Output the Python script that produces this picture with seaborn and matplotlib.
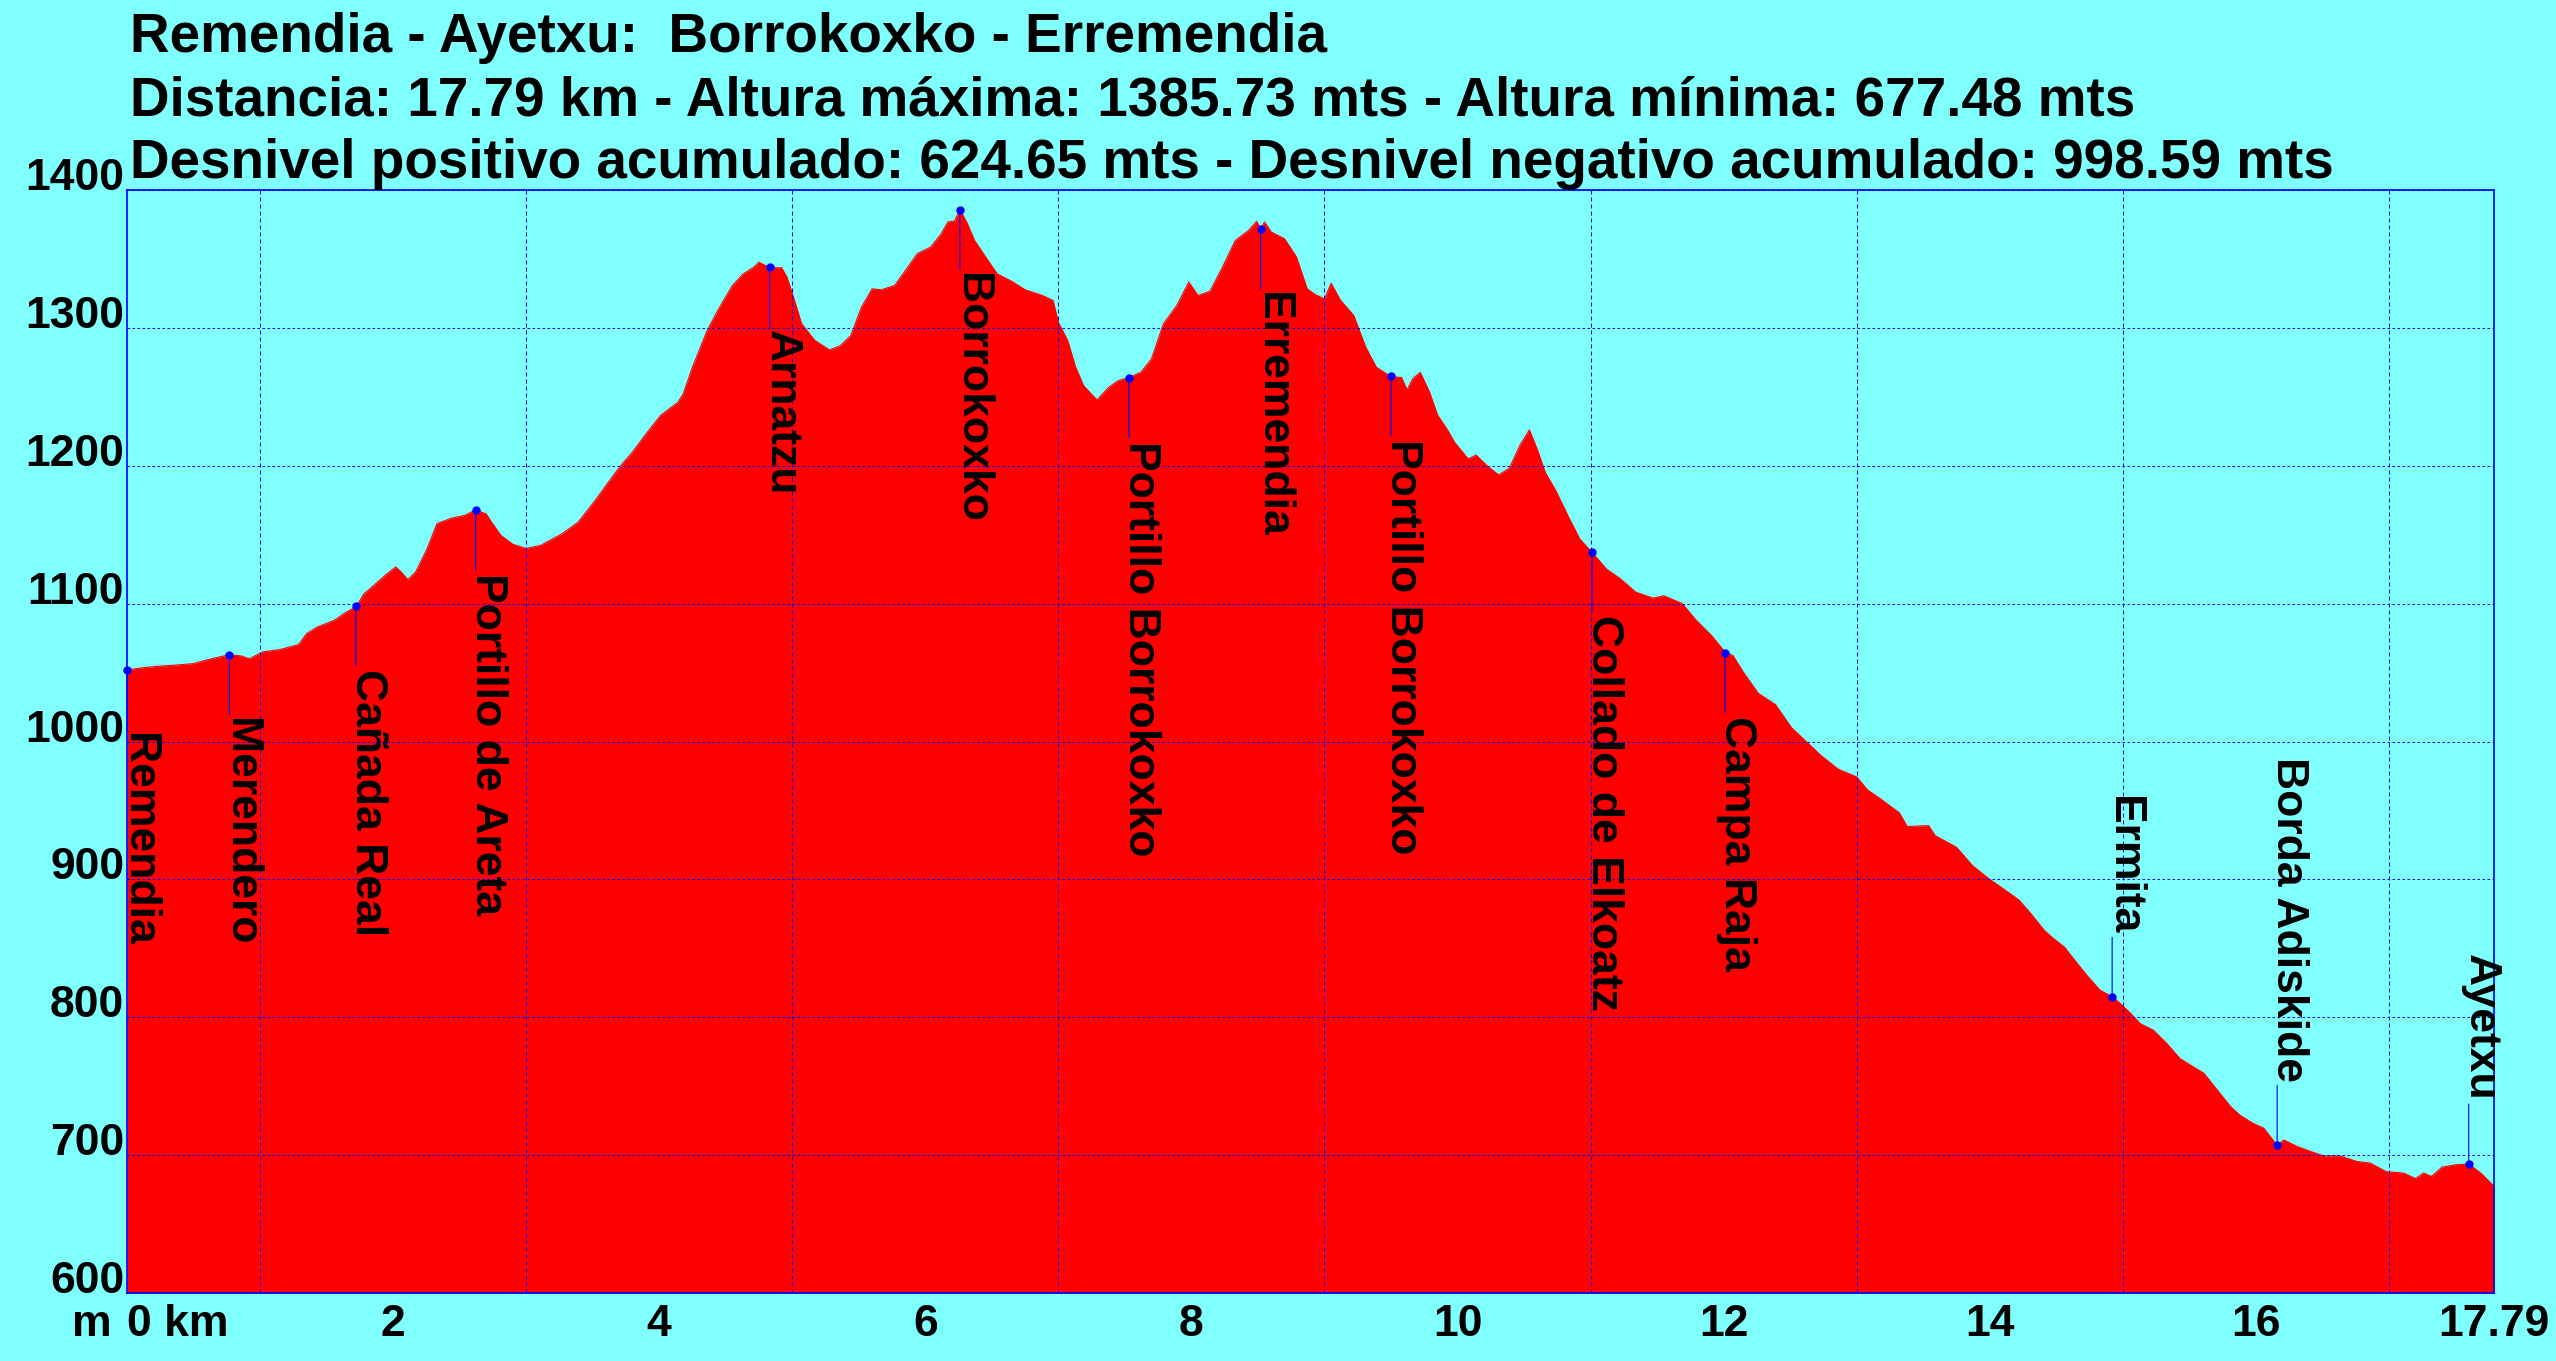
import numpy as np
import pandas as pd
import matplotlib
matplotlib.use("Agg")
import matplotlib.pyplot as plt
from matplotlib.ticker import MultipleLocator
import seaborn as sns

# ---------------- data ----------------
title_lines = [
    "Remendia - Ayetxu:  Borrokoxko - Erremendia",
    "Distancia: 17.79 km - Altura máxima: 1385.73 mts - Altura mínima: 677.48 mts",
    "Desnivel positivo acumulado: 624.65 mts - Desnivel negativo acumulado: 998.59 mts",
]

dist_km = [
    0.0, 0.13, 0.24, 0.35, 0.50, 0.61, 0.77, 0.86, 0.92, 1.02, 1.15, 1.29, 1.35, 1.43,
    1.56, 1.65, 1.72, 1.78, 1.87, 1.94, 2.02, 2.06, 2.11, 2.17, 2.25, 2.33, 2.44, 2.54,
    2.62, 2.70, 2.74, 2.81, 2.90, 3.00, 3.11, 3.27, 3.39, 3.52, 3.61, 3.71, 3.80, 3.90,
    4.01, 4.14, 4.18, 4.25, 4.36, 4.44, 4.55, 4.63, 4.71, 4.75, 4.83, 4.92, 4.96, 5.01,
    5.07, 5.17, 5.28, 5.36, 5.44, 5.52, 5.60, 5.67, 5.77, 5.85, 5.94, 6.04, 6.12, 6.17,
    6.22, 6.26, 6.31, 6.37, 6.47, 6.54, 6.66, 6.75, 6.88, 6.96, 7.00, 7.07, 7.13, 7.19,
    7.29, 7.38, 7.45, 7.53, 7.62, 7.70, 7.79, 7.89, 7.98, 8.05, 8.14, 8.24, 8.33, 8.43,
    8.49, 8.52, 8.55, 8.60, 8.70, 8.79, 8.87, 8.93, 9.00, 9.05, 9.12, 9.22, 9.31, 9.39,
    9.50, 9.58, 9.62, 9.665, 9.72, 9.79, 9.85, 9.92, 9.98, 10.08, 10.14, 10.23, 10.31,
    10.39, 10.47, 10.54, 10.60, 10.66, 10.74, 10.84, 10.92, 11.01, 11.12, 11.22, 11.34,
    11.47, 11.55, 11.69, 11.79, 11.91, 12.01, 12.07, 12.15, 12.26, 12.39, 12.51, 12.62,
    12.73, 12.86, 13.00, 13.08, 13.18, 13.32, 13.38, 13.54, 13.59, 13.75, 13.87, 14.00,
    14.10, 14.22, 14.31, 14.41, 14.48, 14.56, 14.63, 14.73, 14.83, 14.92, 14.98, 15.06,
    15.13, 15.23, 15.33, 15.43, 15.53, 15.61, 15.71, 15.81, 15.88, 15.98, 16.06, 16.16,
    16.21, 16.31, 16.41, 16.51, 16.63, 16.76, 16.86, 16.98, 17.11, 17.20, 17.26, 17.32,
    17.40, 17.50, 17.60, 17.69, 17.79,
]
elev_m = [
    1052, 1053.6, 1054.6, 1055.3, 1056.5, 1059.4, 1063, 1062, 1060, 1065, 1066.7, 1070.3,
    1078.3, 1083, 1088, 1094, 1097.6, 1107, 1114.5, 1120.5, 1126.6, 1123, 1117.4, 1123,
    1138.6, 1158, 1162, 1164, 1168, 1165, 1159, 1149.5, 1143, 1140, 1142.3, 1150.7, 1159,
    1175, 1187, 1200, 1210, 1223, 1236.5, 1246, 1252, 1271.5, 1298, 1312.6, 1330.7, 1339,
    1344, 1347.6, 1343.6, 1343.6, 1336.8, 1322, 1303, 1290.8, 1284, 1287, 1294.4, 1315,
    1328.3, 1327.6, 1330.8, 1341.6, 1353.8, 1358.6, 1368.3, 1376.8, 1377.5, 1385.7,
    1376.8, 1363.4, 1349, 1339.2, 1333.2, 1327.6, 1323.5, 1319.9, 1304, 1290.8, 1271.4,
    1258, 1247.7, 1257, 1261.7, 1264, 1267.8, 1277.5, 1303, 1316.2, 1333.2, 1323.5,
    1326.6, 1345.3, 1363.4, 1370.7, 1377.2, 1372, 1376.8, 1369.5, 1364.6, 1351.3, 1328.3,
    1324.2, 1321, 1332.4, 1320, 1309, 1286, 1271.4, 1264.6, 1264, 1255, 1263.3, 1267.7,
    1253.3, 1236.7, 1226.7, 1216.7, 1205, 1207.7, 1199.3, 1193.3, 1198.3, 1215, 1226,
    1211.7, 1195, 1181.7, 1161.7, 1146.7, 1137.3, 1125, 1118.3, 1108.3, 1104, 1105.7,
    1100, 1088.3, 1076.7, 1065, 1062.3, 1050, 1035, 1026.7, 1010, 1000, 990, 980, 974.3,
    965, 958.3, 948.3, 938.3, 939, 931.7, 923.3, 910, 900, 893.3, 885, 875, 863, 857,
    851, 842.4, 830.4, 819.5, 815, 810, 802.7, 795.4, 790.6, 781, 770, 764, 759.3, 747.2,
    735.2, 729, 723, 719.5, 707, 711, 706.3, 702.7, 699.5, 699.5, 695.4, 694.2, 688, 687,
    683, 687, 684.6, 691.3, 693, 693.5, 687, 677.5,
]

wp_names = ["Remendia", "Merendero", "Cañada Real", "Portillo de Areta", "Arnatzu",
            "Borrokoxko", "Portillo Borrokoxko", "Erremendia", "Portillo Borrokoxko",
            "Collado de Elkoatz", "Campa Raja", "Ermita", "Borda Adiskide", "Ayetxu"]
wp_km = [0.0, 0.77, 1.72, 2.62, 4.83, 6.26, 7.53, 8.52, 9.50, 11.01, 12.01, 14.92, 16.16, 17.60]
wp_elev = [1052, 1063, 1098, 1168, 1344, 1385.7, 1264, 1372, 1265, 1137.5, 1064.5, 814.5, 707, 693.5]
wp_side = ["below"] * 11 + ["above"] * 3

x_ticks = [0, 2, 4, 6, 8, 10, 12, 14, 16, 17.79]
x_ticklabels = ["0 km", "2", "4", "6", "8", "10", "12", "14", "16", "17.79"]
y_ticks = [600, 700, 800, 900, 1000, 1100, 1200, 1300, 1400]

# ---------------- style ----------------
BG = "#80FFFF"
sns.set_theme(style="white")
plt.rcParams["font.family"] = ["Liberation Sans", "DejaVu Sans"]
plt.rcParams["font.weight"] = "bold"

W, H = 2556, 1361
fig = plt.figure(figsize=(W / 100, H / 100), dpi=100, facecolor=BG)
ax = fig.add_axes([127 / W, 68 / H, 2367 / W, 1103 / H], facecolor=BG)

df = pd.DataFrame({"km": dist_km, "elev": elev_m})
ax.fill_between(df["km"], 600, df["elev"], color="#FF0000", lw=0, zorder=1)
sns.lineplot(data=df, x="km", y="elev", ax=ax, color="#FF0000", lw=0.8, zorder=1.1)

ax.set_xlim(0, 17.79)
ax.set_ylim(600, 1400)
ax.set_xlabel("")
ax.set_ylabel("")

ax.set_xticks(x_ticks)
ax.set_xticklabels(x_ticklabels)
ax.set_yticks(y_ticks)
ax.xaxis.set_minor_locator(MultipleLocator(1))
ax.tick_params(axis="both", which="both", length=0, labelsize=32, colors="black")
ax.tick_params(axis="x", pad=8)
ax.tick_params(axis="y", pad=2)
for lab in ax.get_yticklabels():
    lab.set_verticalalignment("baseline")
    lab.set_fontweight("bold")
for lab in ax.get_xticklabels():
    lab.set_fontweight("bold")
ax.get_xticklabels()[0].set_horizontalalignment("left")

ax.set_axisbelow(False)
ax.grid(False)
ax.xaxis.grid(True, which="minor", color="#0000FF", lw=0.72, linestyle=(0, (4, 3)))
ax.yaxis.grid(True, which="major", color="#0000FF", lw=0.72, linestyle=(0, (2.5, 2.5)))

for s in ax.spines.values():
    s.set_visible(True)
    s.set_color("#0000FF")
    s.set_linewidth(1.2)
    s.set_zorder(5)

# unit "m" to the left of the x origin
ax.annotate("m", xy=(0, 0), xycoords="axes fraction", xytext=(-15, -11),
            textcoords="offset pixels", ha="right", va="top", fontsize=32,
            fontweight="bold", color="black")

# waypoints
for name, k, e, side in zip(wp_names, wp_km, wp_elev, wp_side):
    sgn = -1 if side == "below" else 1
    ax.annotate("", xy=(k, e), xytext=(0, sgn * 60), textcoords="offset pixels",
                arrowprops=dict(arrowstyle="-", color="#0000FF", lw=0.8,
                                shrinkA=0, shrinkB=0), annotation_clip=False, zorder=6)
    ax.plot([k], [e], marker="o", ms=5, color="#0000FF", mec="#0000FF",
            clip_on=False, zorder=7)
    ax.annotate(name, xy=(k, e), xytext=(0, sgn * 63), textcoords="offset pixels",
                rotation=-90, rotation_mode="anchor",
                ha="left" if side == "below" else "right", va="baseline",
                fontsize=32, fontweight="bold", color="black",
                annotation_clip=False, zorder=8)

# title block
for txt, yb in zip(title_lines, [52, 115, 178]):
    fig.text(130 / W, 1 - yb / H, txt, ha="left", va="baseline", fontsize=39.5,
             fontweight="bold", color="black")

fig.savefig("out.png", dpi=100, facecolor=BG)
